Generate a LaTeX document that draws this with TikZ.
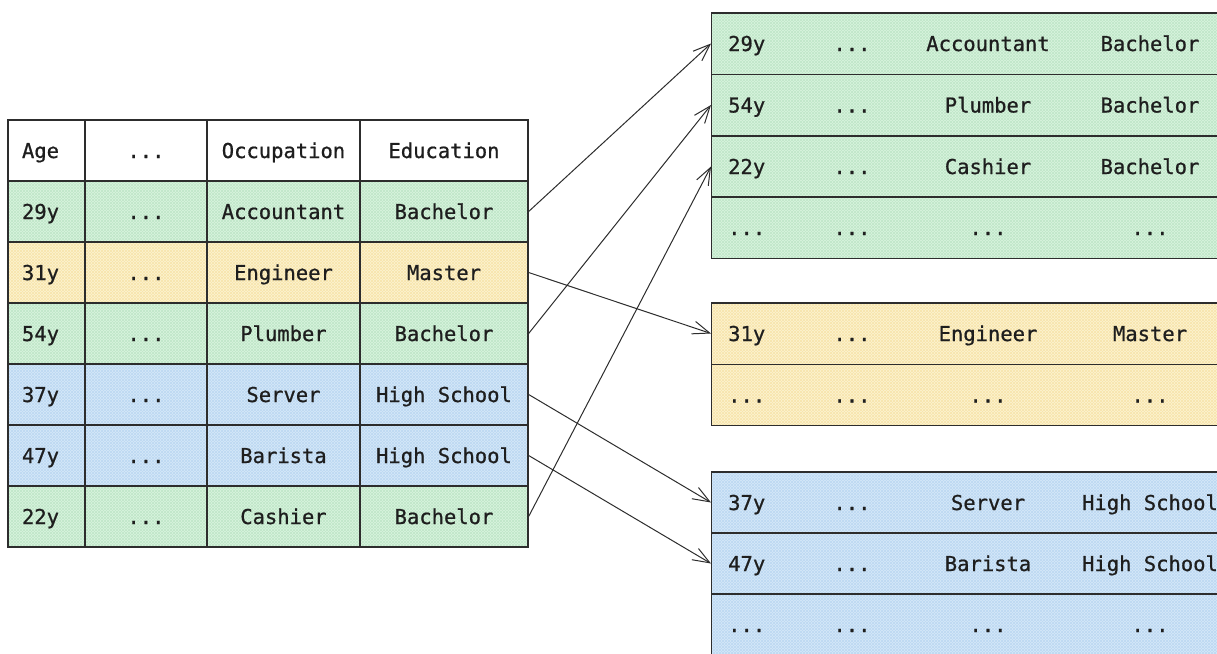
\documentclass[tikz,border=0pt]{standalone}
\usepackage{fontspec}
\setmonofont[FakeBold=0.8]{DejaVu Sans Mono}
\usetikzlibrary{arrows.meta,patterns}
\definecolor{CellLine}{RGB}{45,45,45}
\definecolor{TxtCol}  {RGB}{30,30,30}
\definecolor{GrnFill} {RGB}{216,243,222}
\definecolor{GrnHatch}{RGB}{192,231,201}
\definecolor{YelFill} {RGB}{253,243,208}
\definecolor{YelHatch}{RGB}{247,229,172}
\definecolor{BluFill} {RGB}{214,233,249}
\definecolor{BluHatch}{RGB}{189,217,242}
\newcommand{\cellfont}{\ttfamily\fontsize{20.5}{24}\selectfont}
\tikzset{
  nd_cell/.style={
    rectangle, draw=CellLine, line width=1.3pt,
    minimum height=61pt, inner sep=0pt,
    text height=15pt, text depth=0pt,
    font=\cellfont, text=TxtCol},
  nd_age/.style={
    nd_cell, text width=49pt, align=left, inner xsep=14pt},
  nd_row/.style={
    rectangle, draw=CellLine, line width=1.3pt,
    minimum width=560pt, minimum height=61.3pt,
    inner sep=0pt, anchor=west},
  nd_txt/.style={
    inner sep=0pt, text height=15pt, text depth=0pt,
    font=\cellfont, text=TxtCol},
  fl_grn/.style={preaction={fill=GrnFill},
    preaction={pattern=north east lines,pattern color=GrnHatch},
    preaction={pattern=north west lines,pattern color=GrnHatch}},
  fl_yel/.style={preaction={fill=YelFill},
    preaction={pattern=north east lines,pattern color=YelHatch},
    preaction={pattern=north west lines,pattern color=YelHatch}},
  fl_blu/.style={preaction={fill=BluFill},
    preaction={pattern=north east lines,pattern color=BluHatch},
    preaction={pattern=north west lines,pattern color=BluHatch}},
  arr/.style={-{Straight Barb[length=17pt,width=13pt,line width=1pt]},
    line width=1pt, draw=CellLine},
}
% one row of a split-off table
\newcommand{\outrow}[6]{%
  \node[nd_row,#3] at (711,#2) (#1){};
  \node[nd_txt,anchor=west] at (728,#2) (#1-age){#4};
  \node[nd_txt] at (852,#2)  (#1-dot){...};
  \node[nd_txt] at (988,#2)  (#1-occ){#5};
  \node[nd_txt] at (1150,#2) (#1-edu){#6};
}

\begin{document}
\begin{tikzpicture}[x=1pt,y=-1pt]
\useasboundingbox (0,0) rectangle (1217,653);

\def\cA{46.5}\def\cB{146}\def\cC{283.5}\def\cD{444}

%% source table
\node[nd_age,fill=white]                   at (\cA,150.5) (H-age){Age};
\node[nd_cell,fill=white,minimum width=122pt] at (\cB,150.5) (H-dot){...};
\node[nd_cell,fill=white,minimum width=153pt] at (\cC,150.5) (H-occ){Occupation};
\node[nd_cell,fill=white,minimum width=168pt] at (\cD,150.5) (H-edu){Education};

\foreach \n/\y/\ag/\oc/\ed/\fl in {
    1/211.5/29y/Accountant/Bachelor/fl_grn,
    2/272.5/31y/Engineer/Master/fl_yel,
    3/333.5/54y/Plumber/Bachelor/fl_grn,
    4/394.5/37y/Server/High School/fl_blu,
    5/455.5/47y/Barista/High School/fl_blu,
    6/516.5/22y/Cashier/Bachelor/fl_grn}{
  \node[nd_age,\fl]                      at (\cA,\y) (L\n-age){\ag};
  \node[nd_cell,\fl,minimum width=122pt] at (\cB,\y) (L\n-dot){...};
  \node[nd_cell,\fl,minimum width=153pt] at (\cC,\y) (L\n-occ){\oc};
  \node[nd_cell,\fl,minimum width=168pt] at (\cD,\y) (L\n-edu){\ed};
}

%% Bachelor
\outrow{G1}{43.5}{fl_grn}{29y}{Accountant}{Bachelor}
\outrow{G2}{105}{fl_grn}{54y}{Plumber}{Bachelor}
\outrow{G3}{166.5}{fl_grn}{22y}{Cashier}{Bachelor}
\outrow{G4}{227.5}{fl_grn}{...}{...}{...}

%% Master
\outrow{Y1}{333.5}{fl_yel}{31y}{Engineer}{Master}
\outrow{Y2}{395}{fl_yel}{...}{...}{...}

%% High School
\outrow{B1}{502.5}{fl_blu}{37y}{Server}{High School}
\outrow{B2}{563.5}{fl_blu}{47y}{Barista}{High School}
\outrow{B3}{624.5}{fl_blu}{...}{...}{...}

\draw[arr] (L1-edu.east)--(G1.west);
\draw[arr] (L2-edu.east)--(Y1.west);
\draw[arr] (L3-edu.east)--(G2.west);
\draw[arr] (L4-edu.east)--(B1.west);
\draw[arr] (L5-edu.east)--(B2.west);
\draw[arr] (L6-edu.east)--(G3.west);

\end{tikzpicture}
\end{document}
